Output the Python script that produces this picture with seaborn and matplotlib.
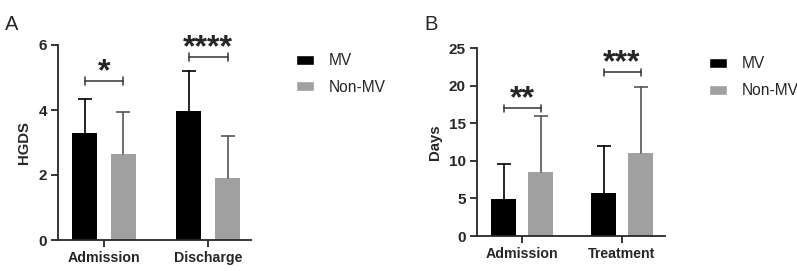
import numpy as np
import pandas as pd
import seaborn as sns
import matplotlib.pyplot as plt
from matplotlib.patches import Patch

# values (mean and upper SD)
groups = ["MV", "Non-MV"]
cats_a = ["Admission", "Discharge"]
mv_a = [3.30, 3.98]
mv_a_sd = [1.05, 1.21]
non_a = [2.64, 1.92]
non_a_sd = [1.29, 1.27]
sig_a = ["*", "****"]
sig_a_y = [4.9, 5.64]

cats_b = ["Admission", "Treatment"]
mv_b = [4.89, 5.68]
mv_b_sd = [4.66, 6.26]
non_b = [8.52, 11.09]
non_b_sd = [7.46, 8.79]
sig_b = ["**", "***"]
sig_b_y = [17.0, 21.8]

colors = ["#000000", "#a0a0a0"]
err_colors = ["#000000", "#555555"]

sns.set_style("ticks")
plt.rcParams['font.family'] = ['Liberation Sans', 'DejaVu Sans']

fig = plt.figure(figsize=(7.97, 2.71), dpi=100)
axA = fig.add_axes([58/797, 31/271, 193/797, 195/271])
axB = fig.add_axes([477/797, 35/271, 188/797, 187.7/271])


def panel(ax, cats, mv, mv_sd, non, non_sd, sig, sig_y, ylim, yticks, ylabel, xlim, brk_h):
    df = pd.DataFrame({
        "cat": cats + cats,
        "grp": [groups[0]]*len(cats) + [groups[1]]*len(cats),
        "val": mv + non,
    })
    sns.barplot(data=df, x="cat", y="val", hue="grp", palette=colors,
                width=0.74, gap=0.35, errorbar=None, linewidth=0,
                legend=False, ax=ax)
    bars = list(ax.containers)
    sds = [mv_sd, non_sd]
    # upper-only SD whiskers
    for k, cont in enumerate(bars):
        for bar, sd in zip(cont, sds[k]):
            x = bar.get_x() + bar.get_width()/2
            h = bar.get_height()
            ax.plot([x, x], [h, h + sd], color=err_colors[k], lw=1.2, zorder=1)
            ax.plot([x], [h + sd], marker="_", ms=9.5, mew=1.2,
                    color=err_colors[k], zorder=1)
    # significance brackets
    for i in range(len(cats)):
        b1 = bars[0][i]
        b2 = bars[1][i]
        x1 = b1.get_x() + b1.get_width()/2
        x2 = b2.get_x() + b2.get_width()/2
        y = sig_y[i]
        ax.plot([x1, x2], [y, y], color="#333333", lw=1.1)
        ax.plot([x1, x1], [y - brk_h, y + brk_h], color="#333333", lw=1.1)
        ax.plot([x2, x2], [y - brk_h, y + brk_h], color="#333333", lw=1.1)
        ax.text((x1 + x2)/2, y - brk_h*1.7, sig[i], ha="center", va="bottom",
                fontsize=23, fontweight="bold")
    ax.set_ylim(*ylim)
    ax.set_yticks(yticks)
    ax.set_xlim(*xlim)
    ax.set_xlabel("")
    ax.set_ylabel(ylabel, fontsize=10.7, fontweight="bold", labelpad=5)
    sns.despine(ax=ax)
    for s in ["left", "bottom"]:
        ax.spines[s].set_linewidth(1.3)
    ax.tick_params(axis="both", width=1.3, length=5, pad=3)
    ax.tick_params(axis="x", labelsize=10.2)
    ax.tick_params(axis="y", labelsize=11)
    for lab in ax.get_xticklabels() + ax.get_yticklabels():
        lab.set_fontweight("bold")
    handles = [Patch(facecolor=c, label=g) for c, g in zip(colors, groups)]
    return handles


hA = panel(axA, cats_a, mv_a, mv_a_sd, non_a, non_a_sd, sig_a, sig_a_y,
           (0, 6), [0, 2, 4, 6], "HGDS", (-0.44, 1.41), 0.12)
hB = panel(axB, cats_b, mv_b, mv_b_sd, non_b, non_b_sd, sig_b, sig_b_y,
           (0, 25), [0, 5, 10, 15, 20, 25], "Days", (-0.45, 1.43), 0.5)

for ax, h in [(axA, hA), (axB, hB)]:
    ax.legend(handles=h, loc="upper left", bbox_to_anchor=(1.2, 0.99), frameon=False,
              fontsize=11.2, handlelength=1.2, handleheight=0.6, labelspacing=0.75,
              handletextpad=0.9, borderaxespad=0)

fig.text(5/797, 1 - 30/271, "A", fontsize=14.5)
fig.text(424/797, 1 - 30/271, "B", fontsize=14.5)

fig.savefig("out.png", dpi=100)
